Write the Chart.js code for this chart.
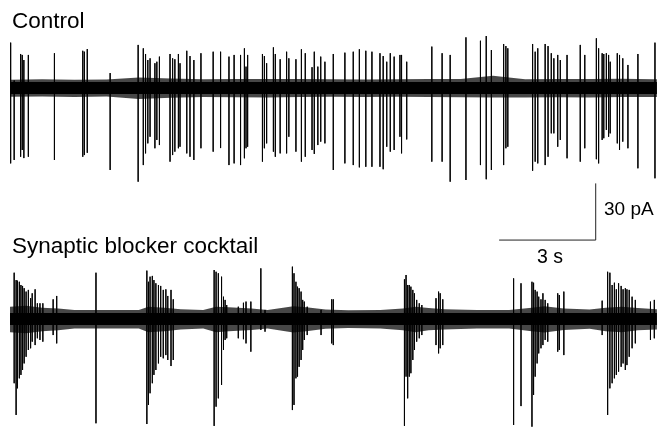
<!DOCTYPE html>
<html>
<head>
<meta charset="utf-8">
<script src="https://cdn.jsdelivr.net/npm/chart.js@4/dist/chart.umd.min.js"></script>
<style>
  html,body{margin:0;padding:0;background:#fff;}
  #wrap{position:relative;width:657px;height:435px;overflow:hidden;}
  canvas{position:absolute;left:0;top:0;}
  .lbl{position:absolute;font-family:"Liberation Sans",Arial,Helvetica,sans-serif;color:#000;white-space:nowrap;}
</style>
</head>
<body>
<div id="wrap">
  <canvas id="c" width="657" height="435"></canvas>
  <div class="lbl" id="t1" style="left:12px;top:10px;font-size:22.5px;line-height:22px;">Control</div>
  <div class="lbl" id="t2" style="left:12px;top:235px;font-size:22.5px;line-height:22px;">Synaptic blocker cocktail</div>
  <div class="lbl" id="t3" style="left:604px;top:199px;font-size:19px;line-height:19px;">30 pA</div>
  <div class="lbl" id="t4" style="left:537px;top:247px;font-size:19.5px;line-height:19px;">3 s</div>
</div>
<script>
// ---- Control trace: spike times (s), upward peak (pA), downward peak (pA)
const ctrlSpikeTime = [0.02,0.13,0.33,0.38,0.43,0.57,1.38,2.26,2.31,2.40,3.11,3.98,4.14,4.21,4.28,4.35,4.50,4.56,4.64,4.97,5.05,5.12,5.23,5.28,5.49,5.59,5.71,5.93,6.31,6.54,6.80,6.96,7.16,7.28,7.33,7.38,7.84,7.90,7.97,8.18,8.24,8.39,8.59,8.66,8.88,9.05,9.17,9.38,9.45,9.56,9.65,9.78,10.04,10.40,10.66,10.85,11.05,11.24,11.49,11.59,11.70,11.81,11.93,12.11,12.16,12.32,13.10,13.42,13.67,14.16,14.61,14.79,14.95,15.33,15.40,15.46,16.23,16.31,16.39,16.62,16.71,16.81,16.89,17.01,17.09,17.30,17.71,17.85,18.21,18.28,18.39,18.44,18.52,18.59,18.64,18.86,18.93,19.03,19.19,19.50,20.03];
const ctrlSpikeUp = [24.0,4.0,18.0,17.5,14.8,17.5,18.4,19.7,19.2,20.6,7.9,22.8,21.0,18.0,14.8,15.7,13.1,13.9,16.6,18.0,15.7,15.2,18.0,13.1,19.7,16.9,14.8,18.4,19.2,19.2,16.6,17.5,17.5,21.0,11.3,17.5,18.0,16.9,13.1,21.5,18.0,15.2,19.2,15.7,15.2,20.5,18.4,11.0,19.2,11.3,16.6,13.9,18.0,18.7,19.2,20.5,19.7,19.2,18.4,16.9,13.9,18.4,16.6,17.5,17.5,13.9,21.9,18.4,17.5,26.8,25.0,27.5,20.1,23.3,22.2,21.0,23.3,19.2,21.0,23.3,22.2,18.4,15.7,17.5,14.8,17.5,22.8,17.5,26.3,21.0,18.4,18.0,18.4,17.5,13.9,18.4,17.5,15.7,12.2,18.0,24.0];
const ctrlSpikeDown = [-39.9,-38.1,-36.4,-32.8,-37.1,-36.4,-38.1,-36.4,-35.5,-34.3,-43.4,-49.6,-40.8,-34.6,-29.3,-25.8,-31.9,-27.5,-30.2,-39.0,-35.5,-33.7,-31.9,-31.1,-34.6,-36.4,-38.1,-31.9,-33.7,-31.8,-40.8,-39.9,-40.8,-37.2,-31.9,-31.1,-39.0,-31.9,-29.3,-33.7,-36.4,-34.6,-34.6,-25.8,-33.7,-39.0,-36.4,-32.8,-34.9,-30.2,-28.4,-29.3,-43.4,-39.9,-40.8,-42.0,-41.7,-41.7,-41.7,-43.0,-31.1,-33.7,-32.8,-25.8,-34.6,-27.2,-39.0,-39.0,-49.6,-48.7,-40.8,-48.3,-43.4,-40.8,-31.9,-31.1,-43.8,-39.0,-39.9,-40.8,-36.4,-24.0,-24.0,-31.1,-27.5,-37.2,-39.0,-31.9,-37.7,-39.9,-27.5,-26.6,-22.2,-25.8,-24.0,-29.3,-32.8,-28.4,-31.9,-42.5,-47.8];

// ---- Synaptic blocker cocktail trace
const blkSpikeTime = [0.13,0.19,0.23,0.29,0.34,0.39,0.44,0.50,0.57,0.64,0.69,0.78,0.85,0.93,1.02,1.34,1.45,2.67,4.25,4.30,4.35,4.42,4.47,4.53,4.61,4.68,4.76,4.84,4.90,5.00,5.07,6.34,6.40,6.47,6.57,6.63,6.68,6.73,7.09,7.25,7.33,7.48,7.79,7.92,8.77,8.82,8.88,8.93,8.98,9.04,9.09,9.14,9.23,9.66,9.99,10.04,12.25,12.30,12.35,12.40,12.45,12.51,12.56,12.63,12.71,12.79,13.23,13.31,13.36,13.44,15.64,15.87,16.21,16.26,16.31,16.37,16.42,16.49,16.55,16.62,16.70,17.01,17.06,17.20,18.39,18.56,18.63,18.70,18.77,18.83,18.90,18.98,19.04,19.11,19.16,19.23,19.32,19.42,19.89,20.01];
const blkSpikeUp = [24.5,20.6,20.3,19.7,18.0,17.5,16.3,14.5,15.4,11.0,13.6,15.7,8.3,8.3,8.3,10.4,12.2,24.5,25.6,19.7,22.4,22.8,20.6,18.9,18.0,17.5,15.4,15.7,12.2,15.4,10.4,25.9,25.0,24.2,22.4,11.8,10.1,7.4,6.5,8.6,9.2,9.2,26.8,4.8,27.7,24.2,19.7,17.1,16.3,14.5,10.1,9.2,6.5,4.8,10.4,10.4,21.0,23.3,18.0,18.0,17.1,15.4,13.6,10.1,8.3,7.4,11.0,14.5,13.6,10.4,21.5,18.9,19.7,19.2,15.4,14.5,11.8,10.4,13.6,10.1,8.3,13.6,12.7,14.5,9.7,25.0,24.5,18.0,19.2,15.7,18.9,17.5,15.7,16.3,15.7,15.4,11.8,10.1,9.2,10.1];
const blkSpikeDown = [-34.0,-50.8,-36.7,-31.4,-29.6,-27.0,-23.5,-20.0,-16.4,-15.5,-12.0,-13.8,-10.2,-11.1,-12.0,-8.5,-12.9,-55.2,-55.6,-45.5,-39.3,-34.0,-29.6,-27.0,-23.5,-20.0,-20.8,-19.1,-21.7,-24.9,-21.7,-56.6,-46.4,-42.0,-34.9,-16.4,-11.1,-10.2,-10.2,-10.7,-12.9,-17.3,-5.8,-6.7,-48.2,-45.5,-31.4,-30.5,-25.3,-21.7,-16.4,-11.1,-8.5,-8.5,-12.9,-13.8,-56.6,-30.5,-42.0,-30.5,-28.7,-21.7,-16.4,-12.0,-10.2,-8.5,-13.8,-18.2,-15.5,-13.8,-56.1,-46.1,-57.0,-40.2,-30.5,-23.5,-18.2,-15.5,-13.8,-11.1,-12.0,-17.3,-16.4,-19.1,-8.5,-50.8,-36.7,-34.0,-31.4,-29.6,-27.9,-25.3,-23.5,-27.0,-24.4,-20.0,-15.5,-12.9,-11.1,-10.2];

// ---- Background noise envelopes (pA)
const ctrlNoiseTime = [0,1,2,3,4,5,6,7,8,9,10,11,12,13,14,15,16,17,18,19,20,20.09];
const ctrlNoiseHi = [4.4,4.6,4.4,4.5,5.6,5.0,4.6,4.8,4.8,4.7,4.6,4.5,4.6,4.7,4.8,6.5,4.6,4.8,4.7,4.9,4.6,4.6];
const ctrlNoiseLo = [-4.6,-4.5,-4.7,-4.5,-5.8,-5.2,-4.8,-4.9,-5.0,-4.8,-4.6,-4.7,-4.6,-4.8,-4.9,-5.0,-5.0,-4.9,-5.0,-4.8,-4.7,-4.7];
const blkNoiseTime = [0,0.5,1,1.5,2,3,4,4.3,4.8,5.3,6,6.4,6.8,7.5,8,8.8,9.2,9.8,10.5,11.5,12.2,12.6,13,13.5,14.5,15.5,16.2,16.6,17.2,18,18.5,19,19.5,20.09];
const blkNoiseHi = [6.5,7.0,6.0,5.5,4.8,4.8,4.8,6.5,6.0,5.2,4.8,6.5,6.2,5.5,4.8,6.8,6.2,5.0,4.6,4.8,5.5,6.5,5.8,5.2,4.8,4.8,6.0,6.8,5.5,5.0,6.0,6.5,5.8,5.2];
const blkNoiseLo = [-7.0,-7.5,-6.5,-6.0,-5.0,-5.0,-5.0,-7.0,-6.5,-5.5,-5.0,-7.0,-6.5,-5.8,-5.0,-7.2,-6.5,-5.2,-4.8,-5.0,-6.0,-7.0,-6.0,-5.5,-5.0,-5.0,-6.5,-7.2,-5.8,-5.2,-6.5,-7.0,-6.0,-5.5];

// ---- Scale bar (3 s, 30 pA), in control-trace units
const scaleBarTime = [15.19, 18.19, 18.19];
const scaleBarCurrent = [-80.5, -80.5, -50.5];

function spikeSegments(times, up, down){
  const out = [];
  for (let i = 0; i < times.length; i++){
    out.push({x: times[i], y: up[i]});
    out.push({x: times[i], y: down[i]});
    out.push({x: times[i], y: null});
  }
  return out;
}
function series(times, vals){ return times.map((t,i)=>({x:t, y:vals[i]})); }

const fringe = 'rgba(0,0,0,0.72)';
const spikeColor = 'rgba(0,0,0,0.85)';
const datasets = [
  {data: spikeSegments(ctrlSpikeTime, ctrlSpikeUp, ctrlSpikeDown), yAxisID:'y1', borderColor:spikeColor, borderWidth:1, spanGaps:false},
  {data: spikeSegments(blkSpikeTime, blkSpikeUp, blkSpikeDown), yAxisID:'y2', borderColor:spikeColor, borderWidth:1, spanGaps:false},
  {data: series(scaleBarTime, scaleBarCurrent), yAxisID:'y1', borderColor:'#222', borderWidth:1},
  {data: series(ctrlNoiseTime, ctrlNoiseTime.map(()=>0)), yAxisID:'y1', borderColor:'#000', borderWidth:12},
  {data: series(blkNoiseTime, blkNoiseTime.map(()=>0)), yAxisID:'y2', borderColor:'#000', borderWidth:12},
  {data: series(ctrlNoiseTime, ctrlNoiseHi), yAxisID:'y1', borderWidth:0, borderColor:'rgba(0,0,0,0)', backgroundColor:fringe, fill:'+1'},
  {data: series(ctrlNoiseTime, ctrlNoiseLo), yAxisID:'y1', borderWidth:0, borderColor:'rgba(0,0,0,0)', fill:false},
  {data: series(blkNoiseTime, blkNoiseHi), yAxisID:'y2', borderWidth:0, borderColor:'rgba(0,0,0,0)', backgroundColor:fringe, fill:'+1'},
  {data: series(blkNoiseTime, blkNoiseLo), yAxisID:'y2', borderWidth:0, borderColor:'rgba(0,0,0,0)', fill:false}
];
datasets.forEach(d=>{ d.pointRadius = 0; d.tension = 0; d.borderCapStyle='butt'; });

// pixel scale: 3 s <-> ~96.7 px, 30 pA <-> ~56.7 px
const pxPerSec = 32.2, pxPerPA = 1.889, W = 657, H = 435;
const t0px = 10, ctrlBasePx = 88, blkBasePx = 319;
const xMin = -t0px/pxPerSec, xMax = xMin + W/pxPerSec;
const y1Max = ctrlBasePx/pxPerPA, y1Min = y1Max - H/pxPerPA;
const y2Max = blkBasePx/pxPerPA, y2Min = y2Max - H/pxPerPA;

new Chart(document.getElementById('c'), {
  type:'line',
  data:{datasets},
  options:{
    responsive:false, animation:false, devicePixelRatio:1,
    layout:{padding:0},
    plugins:{legend:{display:false}, tooltip:{enabled:false}},
    scales:{
      x:{type:'linear', min:xMin, max:xMax, display:false, offset:false},
      y1:{type:'linear', min:y1Min, max:y1Max, display:false},
      y2:{type:'linear', min:y2Min, max:y2Max, display:false}
    }
  }
});
</script>
</body>
</html>
